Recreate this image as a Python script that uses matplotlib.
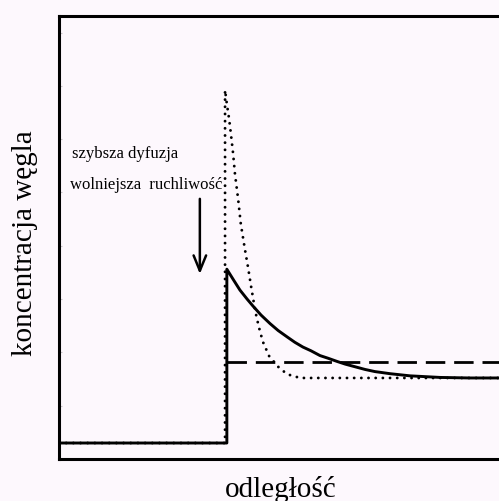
import matplotlib
matplotlib.use("Agg")
import matplotlib.pyplot as plt

# carbon concentration profiles across the interface
interface_x = 3.73
low_level = 0.30
uniform_level = 1.82

# slower-mobility profile (solid)
solid_x = [3.73, 3.87, 4.02, 4.18, 4.31, 4.49, 4.69, 4.87, 5.07, 5.24, 5.42, 5.60,
           5.80, 5.98, 6.18, 6.36, 6.58, 6.80, 7.02, 7.36, 7.80, 8.47, 9.13, 10.3]
solid_y = [3.56, 3.37, 3.17, 3.00, 2.87, 2.70, 2.54, 2.41, 2.29, 2.19, 2.10, 2.03,
           1.94, 1.89, 1.83, 1.78, 1.73, 1.68, 1.64, 1.60, 1.56, 1.53, 1.52, 1.52]

# faster-diffusion profile (dotted)
dot_x = [3.69, 3.73, 3.78, 3.82, 3.87, 3.91, 3.98, 4.04, 4.13, 4.20, 4.27, 4.36,
         4.44, 4.53, 4.67, 4.87, 5.07, 5.36, 10.3]
dot_y = [6.92, 6.66, 6.38, 6.10, 5.72, 5.35, 4.88, 4.41, 3.94, 3.60, 3.23, 2.78,
         2.48, 2.20, 1.93, 1.73, 1.59, 1.52, 1.52]

label_fast = "szybsza dyfuzja"
label_slow = "wolniejsza  ruchliwość"
x_label = "odległość"
y_label = "koncentracja węgla"

bg = "#fdf8fd"
W, H = 499, 502
fig = plt.figure(figsize=(W / 100, H / 100), dpi=100, facecolor=bg)
ax = fig.add_axes([59 / W, 1 - 460 / H, 450 / W, 443 / H], facecolor=bg)
ax.set_xlim(0, 10)
ax.set_ylim(0, 8.31)

# dotted curve: vertical rise at the interface, then sharp decay
ax.plot([0, dot_x[0]] + dot_x, [low_level, low_level] + dot_y,
        color="black", lw=2.1, linestyle=(0, (0.01, 2.45)),
        dash_capstyle="round", zorder=2)
# dashed uniform level
ax.plot([interface_x, 10.3], [uniform_level, uniform_level],
        color="black", lw=2.0, linestyle=(0, (7, 3.2)), zorder=2)
# solid profile with the step at the interface
ax.plot([0, interface_x] + solid_x, [low_level, low_level] + solid_y,
        color="black", lw=2.1, solid_joinstyle="round", zorder=3)

# arrow pointing at the interface
ax.annotate("", xy=(3.13, 3.47), xytext=(3.13, 4.88),
            arrowprops=dict(arrowstyle="->,head_length=1.1,head_width=0.45",
                            color="black", lw=1.8, shrinkA=0, shrinkB=0))

serif = ["Liberation Serif", "DejaVu Serif"]
ax.text(0.29, 5.67, label_fast, family=serif, fontsize=12, va="baseline", ha="left")
ax.text(0.24, 5.08, label_slow, family=serif, fontsize=12, va="baseline", ha="left")

for side in ("left", "top", "bottom"):
    ax.spines[side].set_linewidth(2.2)
ax.spines["right"].set_visible(False)
ax.set_xticks([])
ax.set_yticks(range(1, 9))
ax.tick_params(axis="y", direction="in", length=2.5, width=0.8,
               color="#c8c4c8", labelleft=False)

fig.text(25 / W, 1 - 243 / H, y_label, family=serif, fontsize=21,
         rotation=90, ha="center", va="center")
fig.text(281 / W, 1 - 490 / H, x_label, family=serif, fontsize=21,
         ha="center", va="center")

fig.savefig("out.png", dpi=100, facecolor=bg)
